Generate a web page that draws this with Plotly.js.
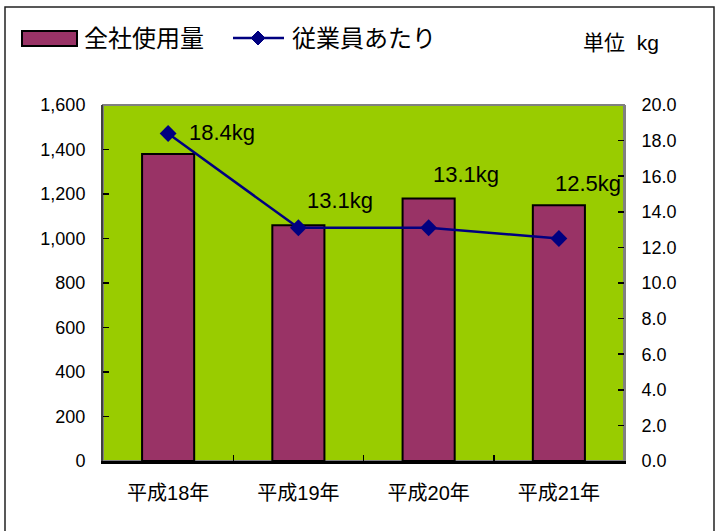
<!DOCTYPE html>
<html><head><meta charset="utf-8">
<script src="https://cdn.plot.ly/plotly-3.0.1.min.js"></script>
<style>html,body{margin:0;padding:0;background:#fff}#c{width:726px;height:531px}</style>
</head><body><div id="c"></div>
<script>
const categories = ["平成18年", "平成19年", "平成20年", "平成21年"];
const totalUsage = [1380, 1060, 1180, 1150];
const perEmployee = [18.4, 13.1, 13.1, 12.5];
const perEmployeeLabels = ["18.4kg", "13.1kg", "13.1kg", "12.5kg"];
const seriesNames = ["全社使用量", "従業員あたり"];
const unitLabel = "単位&nbsp;&nbsp;kg";

const FONT = '"Liberation Sans", "Noto Sans CJK JP", sans-serif';
const NUMFONT = '"Liberation Sans", Arial, sans-serif';

const traces = [
  {type: 'bar', x: categories, y: totalUsage, name: seriesNames[0], width: 0.4,
   marker: {color: '#993366', line: {color: '#000', width: 2}}, yaxis: 'y', hoverinfo: 'y'},
  {type: 'scatter', mode: 'lines+markers', x: categories, y: perEmployee, name: seriesNames[1],
   yaxis: 'y2', line: {color: '#000080', width: 2.5},
   marker: {symbol: 'diamond', size: 13, color: '#000080'}}
];

// label offsets (px) relative to each point: [xshift, yshift, yanchor]
const labelStyle = [[19, 1, 'middle'], [7, 13, 'bottom'], [2, 39, 'bottom'], [-6, 41, 'bottom']];
const annotations = perEmployee.map((v, i) => ({
  x: categories[i], y: v, xref: 'x', yref: 'y2', text: perEmployeeLabels[i], showarrow: false,
  xanchor: 'left', yanchor: labelStyle[i][2], xshift: labelStyle[i][0], yshift: labelStyle[i][1],
  font: {family: NUMFONT, size: 22, color: '#000'}
}));

// plot area in px: l=103, r=624, t=105, b=461  => paper w=521, h=356
const W = 521, H = 356, L = 103, B = 461;
const px = x => (x - L) / W;
const py = y => (B - y) / H;

annotations.push(
  {xref: 'paper', yref: 'paper', x: px(82), y: py(38), xanchor: 'left', yanchor: 'middle', showarrow: false,
   text: seriesNames[0], font: {family: FONT, size: 24, color: '#000'}},
  {xref: 'paper', yref: 'paper', x: px(290), y: py(38), xanchor: 'left', yanchor: 'middle', showarrow: false,
   text: seriesNames[1], font: {family: FONT, size: 24, color: '#000'}},
  {xref: 'paper', yref: 'paper', x: px(581), y: py(43), xanchor: 'left', yanchor: 'middle', showarrow: false,
   text: unitLabel, font: {family: FONT, size: 21, color: '#000'}}
);

const shapes = [
  // outer frame
  {type: 'rect', xref: 'paper', yref: 'paper', x0: px(5), x1: px(714), y0: py(540), y1: py(7),
   line: {color: '#222', width: 1.5}, fillcolor: 'rgba(0,0,0,0)'},
  // plot border (top/right gray)
  {type: 'rect', xref: 'paper', yref: 'paper', x0: 0, x1: 1, y0: 0, y1: 1,
   line: {color: '#808080', width: 2}, fillcolor: 'rgba(0,0,0,0)', layer: 'below'},
  // legend swatch: bar
  {type: 'rect', xref: 'paper', yref: 'paper', x0: px(22), x1: px(77), y0: py(46), y1: py(31),
   line: {color: '#000', width: 2}, fillcolor: '#993366'},
  // legend swatch: line
  {type: 'line', xref: 'paper', yref: 'paper', x0: px(233), x1: px(284), y0: py(38), y1: py(38),
   line: {color: '#000080', width: 2.5}},
  {type: 'path', xref: 'paper', yref: 'paper',
   path: `M ${px(258)} ${py(31)} L ${px(265)} ${py(38)} L ${px(258)} ${py(45)} L ${px(251)} ${py(38)} Z`,
   line: {color: '#000080', width: 1}, fillcolor: '#000080'}
];

const layout = {
  width: 726, height: 531,
  margin: {l: L, r: 726 - 624, t: 105, b: 531 - B},
  paper_bgcolor: '#fff', plot_bgcolor: '#99CC00',
  showlegend: false, bargap: 0.6,
  font: {family: FONT, color: '#000'},
  xaxis: {type: 'category', showline: true, linecolor: '#000', linewidth: 2.5,
          ticks: 'inside', ticklen: 6, tickcolor: '#000', tickwidth: 1.5, tickson: 'boundaries',
          ticklabelstandoff: 12, showgrid: false,
          tickfont: {family: FONT, size: 20, color: '#000'}},
  yaxis: {range: [0, 1600], dtick: 200, tickformat: ',', showgrid: false, zeroline: false,
          showline: true, linecolor: '#404040', linewidth: 2,
          ticks: 'inside', ticklen: 6, tickcolor: '#000', tickwidth: 1.5, ticklabelstandoff: 12,
          tickfont: {family: NUMFONT, size: 18, color: '#000'}},
  yaxis2: {range: [0, 20], dtick: 2, tickformat: '.1f', overlaying: 'y', side: 'right',
           showgrid: false, zeroline: false, showline: true, linecolor: '#808080', linewidth: 2,
           ticks: 'inside', ticklen: 6, tickcolor: '#000', tickwidth: 1.5, ticklabelstandoff: 12,
           tickfont: {family: NUMFONT, size: 18, color: '#000'}},
  annotations: annotations,
  shapes: shapes
};

Plotly.newPlot('c', traces, layout, {displayModeBar: false, staticPlot: true});
</script>
</body></html>
